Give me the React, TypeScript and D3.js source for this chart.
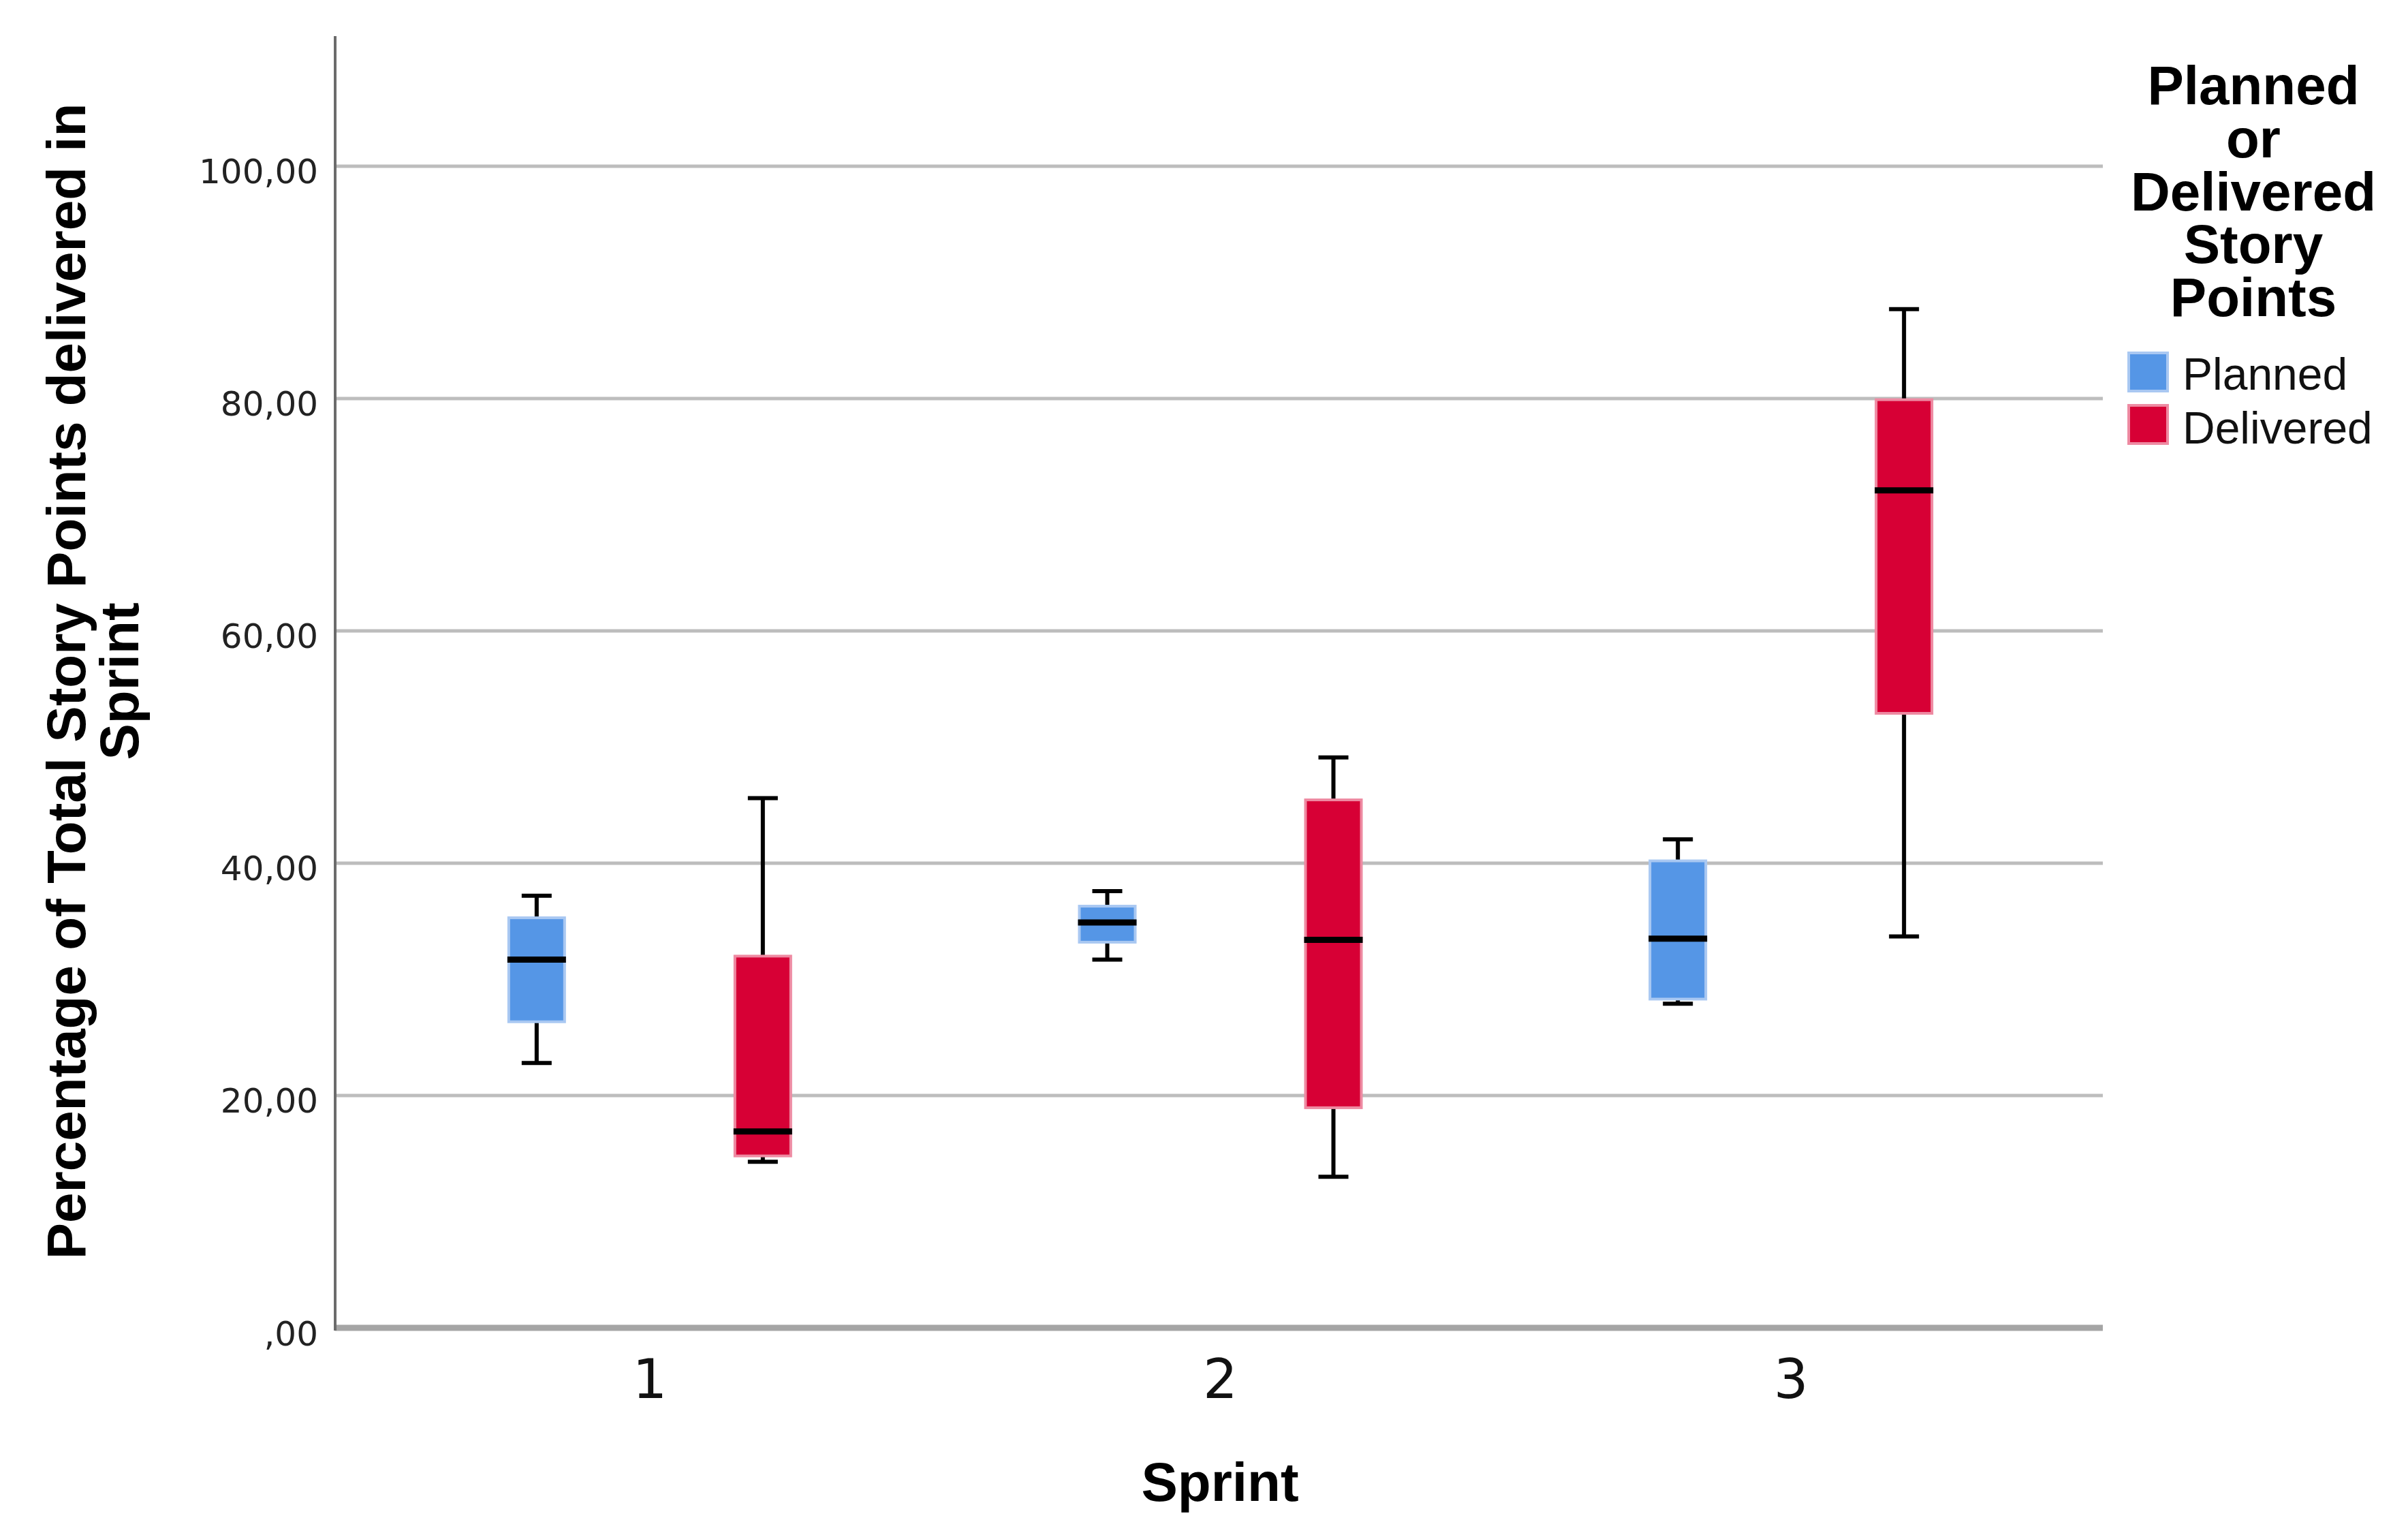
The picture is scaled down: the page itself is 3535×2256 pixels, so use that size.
import React from 'react';
import * as d3 from 'd3';

// Sprint categories and the two box series
const sprints = ['1', '2', '3'];
const seriesNames = ['Planned', 'Delivered'];
const seriesColors = ['#5596e6', '#d70035'];
const seriesEdges = ['#a9c8f2', '#ee8aa2'];

// five-number summaries, one entry per sprint
const plannedMin = [22.8, 31.7, 27.9];
const plannedQ1 = [26.35, 33.2, 28.3];
const plannedMedian = [31.7, 34.9, 33.5];
const plannedQ3 = [35.3, 36.3, 40.2];
const plannedMax = [37.2, 37.6, 42.05];

const deliveredMin = [14.3, 13.0, 33.7];
const deliveredQ1 = [14.8, 18.95, 52.9];
const deliveredMedian = [16.9, 33.4, 72.1];
const deliveredQ3 = [32.0, 45.45, 79.9];
const deliveredMax = [45.6, 49.1, 87.7];

const yTicks = [0, 20, 40, 60, 80, 100];
const yTickLabels = [',00', '20,00', '40,00', '60,00', '80,00', '100,00'];

const legendTitle = ['Planned', 'or', 'Delivered', 'Story', 'Points'];

const W = 3535;
const H = 2256;
const axisLeft = 492;
const plotRight = 3087;
const axisTop = 53;
const axisBottom = 1949;
const boxWidth = 82;
const capWidth = 44;

const BOLD = '"Liberation Sans", Arial, sans-serif';
const TICK = '"DejaVu Sans", sans-serif';

const App: React.FC = () => {
  const y = d3.scaleLinear().domain([0, 111.2]).range([axisBottom, axisTop]);
  const x = d3.scaleBand().domain(sprints).range([535, 3048]).padding(0);
  const offset = d3.scalePoint().domain(seriesNames).range([-166, 166]);

  const boxes = [
    { name: 'Planned', min: plannedMin, q1: plannedQ1, med: plannedMedian, q3: plannedQ3, max: plannedMax },
    { name: 'Delivered', min: deliveredMin, q1: deliveredQ1, med: deliveredMedian, q3: deliveredQ3, max: deliveredMax },
  ].flatMap((s, si) =>
    sprints.map((sp, i) => ({
      key: `${s.name}-${sp}`,
      cx: x(sp)! + x.bandwidth() / 2 + offset(s.name)!,
      min: s.min[i], q1: s.q1[i], med: s.med[i], q3: s.q3[i], max: s.max[i],
      fill: seriesColors[si], edge: seriesEdges[si],
    }))
  );

  return (
    <svg width={W} height={H} style={{ position: 'absolute', left: 0, top: 0, background: '#fff' }}>
      {/* gridlines */}
      {yTicks.filter(t => t > 0).map(t => (
        <line key={t} x1={axisLeft} x2={plotRight} y1={y(t)} y2={y(t)} stroke="#bdbdbd" strokeWidth={5} />
      ))}

      {/* y tick labels */}
      {yTicks.map((t, i) => (
        <text key={t} x={467} y={y(t) + 25.5} textAnchor="end" fontFamily={TICK} fontSize={50} fill="#222">
          {yTickLabels[i]}
        </text>
      ))}

      {/* boxes */}
      {boxes.map(b => (
        <g key={b.key}>
          <line x1={b.cx} x2={b.cx} y1={y(b.max)} y2={y(b.q3)} stroke="#000" strokeWidth={6} />
          <line x1={b.cx} x2={b.cx} y1={y(b.q1)} y2={y(b.min)} stroke="#000" strokeWidth={6} />
          <line x1={b.cx - capWidth / 2} x2={b.cx + capWidth / 2} y1={y(b.max)} y2={y(b.max)} stroke="#000" strokeWidth={6} />
          <line x1={b.cx - capWidth / 2} x2={b.cx + capWidth / 2} y1={y(b.min)} y2={y(b.min)} stroke="#000" strokeWidth={6} />
          <rect
            x={b.cx - boxWidth / 2}
            y={y(b.q3)}
            width={boxWidth}
            height={y(b.q1) - y(b.q3)}
            fill={b.fill}
            stroke={b.edge}
            strokeWidth={4}
          />
          <line x1={b.cx - boxWidth / 2 - 2} x2={b.cx + boxWidth / 2 + 2} y1={y(b.med)} y2={y(b.med)} stroke="#000" strokeWidth={9} />
        </g>
      ))}

      {/* axes */}
      <line x1={axisLeft} x2={plotRight} y1={axisBottom} y2={axisBottom} stroke="#a5a5a5" strokeWidth={9} />
      <line x1={axisLeft} x2={axisLeft} y1={axisTop} y2={axisBottom + 4} stroke="#6b6b6b" strokeWidth={4} />

      {/* x tick labels */}
      {sprints.map(sp => (
        <text key={sp} x={x(sp)! + x.bandwidth() / 2} y={2052} textAnchor="middle" fontFamily={TICK} fontSize={80} fill="#111">
          {sp}
        </text>
      ))}

      {/* axis titles */}
      <text x={1791} y={2203} textAnchor="middle" fontFamily={BOLD} fontWeight="bold" fontSize={80} fill="#000">
        Sprint
      </text>
      <text transform="translate(125,1000) rotate(-90)" textAnchor="middle" fontFamily={BOLD} fontWeight="bold" fontSize={80} fill="#000">
        Percentage of Total Story Points delivered in
      </text>
      <text transform="translate(203,1000) rotate(-90)" textAnchor="middle" fontFamily={BOLD} fontWeight="bold" fontSize={80} fill="#000">
        Sprint
      </text>

      {/* legend */}
      {legendTitle.map((l, i) => (
        <text key={l} x={3308} y={153 + i * 77.8} textAnchor="middle" fontFamily={BOLD} fontWeight="bold" fontSize={80} fill="#000">
          {l}
        </text>
      ))}
      {seriesNames.map((s, i) => (
        <g key={s}>
          <rect x={3125} y={518 + i * 77} width={57} height={56} fill={seriesColors[i]} stroke={seriesEdges[i]} strokeWidth={4} />
          <text x={3204} y={572 + i * 79} fontFamily={BOLD} fontSize={66} fill="#111">
            {s}
          </text>
        </g>
      ))}
    </svg>
  );
};

export default App;
